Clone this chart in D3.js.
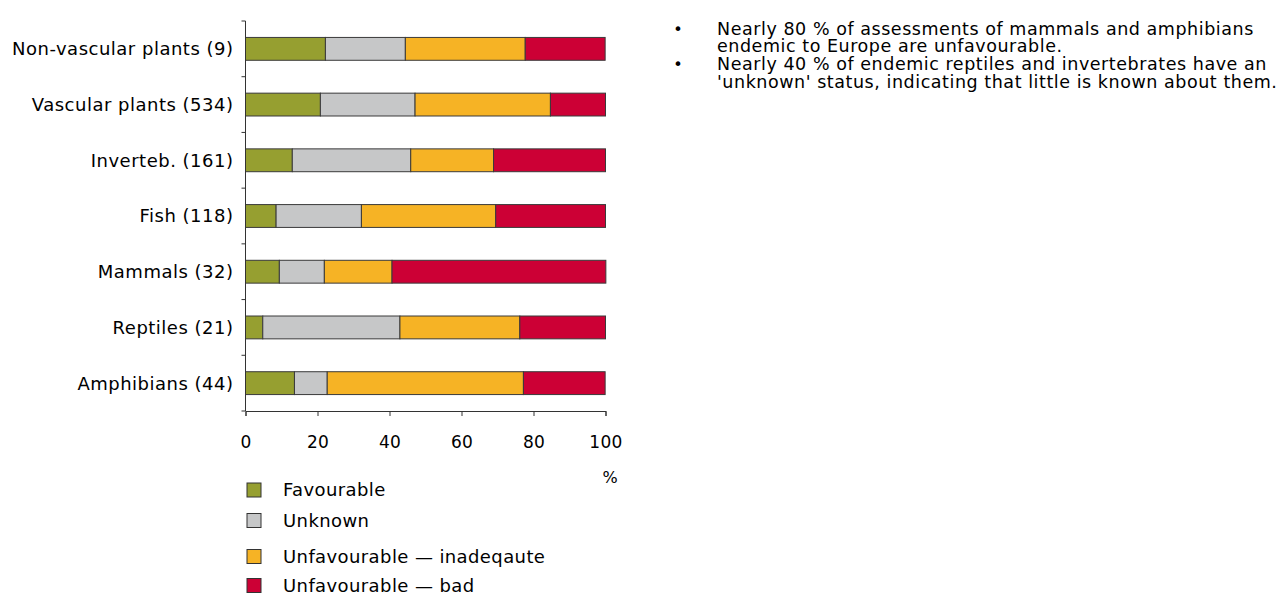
<!DOCTYPE html>
<html>
<head>
<meta charset="utf-8">
<script src="https://cdn.jsdelivr.net/npm/d3@7"></script>
<style>
  html, body { margin: 0; padding: 0; background: #fff; }
  svg { display: block; }
  text { font-family: "DejaVu Sans", Verdana, sans-serif; fill: #000; }
</style>
</head>
<body>
<svg id="chart" width="1282" height="595"></svg>
<script>
// Conservation status of species endemic to Europe, share of assessments (%)
const categories = [
  "Non-vascular plants (9)",
  "Vascular plants (534)",
  "Inverteb. (161)",
  "Fish (118)",
  "Mammals (32)",
  "Reptiles (21)",
  "Amphibians (44)"
];
const favourable   = [22.2, 20.8, 13.0,  8.5,  9.4,  4.8, 13.6];
const unknown      = [22.2, 26.3, 32.9, 23.7, 12.5, 38.1,  9.1];
const inadequate   = [33.3, 37.6, 23.0, 37.3, 18.8, 33.3, 54.5];
const bad          = [22.2, 15.3, 31.1, 30.5, 59.4, 23.8, 22.7];

const seriesNames = ["Favourable", "Unknown", "Unfavourable \u2014 inadeqaute", "Unfavourable \u2014 bad"];
const seriesColors = ["#969f30", "#c6c7c8", "#f6b325", "#cc0035"];
const xTicks = [0, 20, 40, 60, 80, 100];
const xUnit = "%";
const notes = [
  ["Nearly 80 % of assessments of mammals and amphibians", "endemic to Europe are unfavourable."],
  ["Nearly 40 % of endemic reptiles and invertebrates have an", "'unknown' status, indicating that little is known about them."]
];

const svg = d3.select("#chart");

const x = d3.scaleLinear().domain([0, 100]).range([245.5, 605.5]);
const y = d3.scaleBand().domain(categories).range([21, 411])
  .paddingInner(0.59).paddingOuter(0.295);

const rows = categories.map((c, i) => ({
  cat: c, Favourable: favourable[i], Unknown: unknown[i],
  [seriesNames[2]]: inadequate[i], [seriesNames[3]]: bad[i]
}));
const stacked = d3.stack().keys(seriesNames)(rows);

// stacked bars
svg.append("g").selectAll("g").data(stacked).join("g")
  .attr("fill", (d, i) => seriesColors[i])
  .selectAll("rect").data(d => d).join("rect")
    .attr("x", d => x(d[0]))
    .attr("y", d => y(d.data.cat))
    .attr("width", d => x(d[1]) - x(d[0]))
    .attr("height", y.bandwidth())
    .attr("stroke", "#3a3a3a")
    .attr("stroke-width", 1);

// y axis: line with ticks at band boundaries
const yAxis = svg.append("g").attr("stroke", "#333").attr("stroke-width", 1);
yAxis.append("line").attr("x1", x(0)).attr("x2", x(0)).attr("y1", 21).attr("y2", 411);
const bounds = categories.map(c => y(c) - y.step() * y.paddingInner() / 2);
bounds.push(411);
yAxis.selectAll("line.tk").data(bounds).join("line").attr("class", "tk")
  .attr("x1", x(0) - 4).attr("x2", x(0)).attr("y1", d => d).attr("y2", d => d);

// category labels
svg.append("g").selectAll("text").data(categories).join("text")
  .attr("x", 233.5)
  .attr("y", d => y(d) + y.bandwidth() / 2)
  .attr("dy", "0.36em")
  .attr("text-anchor", "end")
  .style("font-size", "18px")
  .style("letter-spacing", "0.5px")
  .text(d => d);

// x axis
const xAxis = svg.append("g").attr("transform", "translate(0,411)")
  .call(d3.axisBottom(x).tickValues(xTicks).tickSize(5).tickPadding(20).tickFormat(d3.format("d")));
xAxis.select(".domain").attr("stroke", "#333");
xAxis.selectAll(".tick line").attr("stroke", "#333");
xAxis.selectAll(".tick text")
  .style("font-family", '"DejaVu Sans", Verdana, sans-serif')
  .style("font-size", "17px").style("letter-spacing", "0.3px").attr("fill", "#000");

svg.append("text").attr("x", 610).attr("y", 483)
  .attr("text-anchor", "middle").style("font-size", "16px").text(xUnit);

// legend
const legendY = [490, 520.5, 556.5, 585.5];
const lg = svg.append("g").selectAll("g").data(seriesNames).join("g")
  .attr("transform", (d, i) => `translate(247,${legendY[i]})`);
lg.append("rect").attr("x", 0).attr("y", -7).attr("width", 14).attr("height", 14)
  .attr("fill", (d, i) => seriesColors[i]).attr("stroke", "#333").attr("stroke-width", 1);
lg.append("text").attr("x", 36).attr("dy", "0.36em")
  .style("font-size", "18px").style("letter-spacing", "0.4px").text(d => d);

// bullet notes
const nt = svg.append("g").attr("transform", "translate(0,34.5)");
notes.forEach((lines, i) => {
  const top = i * 35.5;
  nt.append("text").attr("x", 678).attr("y", top).attr("text-anchor", "middle")
    .style("font-size", "16px").text("\u2022");
  lines.forEach((ln, j) => {
    nt.append("text").attr("x", 717).attr("y", top + j * 17.5)
      .style("font-size", "17.5px").style("letter-spacing", "0.55px").text(ln);
  });
});
</script>
</body>
</html>
